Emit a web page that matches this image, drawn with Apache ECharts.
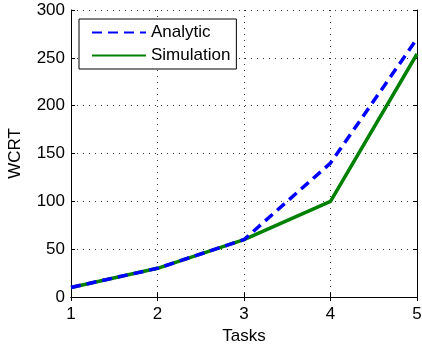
<!DOCTYPE html>
<html><head><meta charset="utf-8">
<script src="https://cdn.jsdelivr.net/npm/echarts@6/dist/echarts.min.js"></script>
<style>html,body{margin:0;padding:0;background:#fff}#c{width:422px;height:344px}</style>
</head><body><div id="c"></div>
<script>
var tasks = [1, 2, 3, 4, 5];
var analytic = [10, 30, 60, 140, 270];
var simulation = [10, 30, 60, 100, 254];
var xMin = 1, xMax = 5, xStep = 1;
var yMin = 0, yMax = 300, yStep = 50;

function pairs(xs, ys){ return xs.map(function(x,i){ return [x, ys[i]]; }); }
var font = 'Liberation Sans, Arial, sans-serif';
var chart = echarts.init(document.getElementById('c'));
var gridLine = {show:true, lineStyle:{color:'#333', type:[1,5], width:1}};
var axisLineStyle = {show:true, lineStyle:{color:'#000', width:1}};
var tick = {show:true, inside:true, length:4, lineStyle:{color:'#000'}};
chart.setOption({
  animation:false,
  grid:{left:71, right:5, top:10, bottom:47, containLabel:false, outerBoundsMode:'none'},
  legend:{
    left:79, top:19, orient:'vertical', itemGap:6, itemWidth:54, itemHeight:14,
    padding:[5,6,5,12], borderColor:'#000', borderWidth:1, backgroundColor:'#fff',
    itemStyle:{opacity:0},
    textStyle:{fontFamily:font, fontSize:17, color:'#000'},
    data:['Analytic','Simulation']
  },
  xAxis:[
    {type:'value', min:xMin, max:xMax, interval:xStep, position:'bottom',
     name:'Tasks', nameLocation:'middle', nameGap:27,
     nameTextStyle:{fontFamily:font, fontSize:17, color:'#000'},
     axisLine:axisLineStyle, axisTick:tick,
     axisLabel:{fontFamily:font, fontSize:17, color:'#000', margin:9},
     splitLine:gridLine},
    {type:'value', min:xMin, max:xMax, interval:xStep, position:'top',
     axisLine:axisLineStyle, axisTick:tick,
     axisLabel:{show:false}, splitLine:{show:false}}
  ],
  yAxis:[
    {type:'value', min:yMin, max:yMax, interval:yStep, position:'left',
     name:'WCRT', nameLocation:'middle', nameGap:47, nameRotate:90,
     nameTextStyle:{fontFamily:font, fontSize:17, color:'#000'},
     axisLine:axisLineStyle, axisTick:tick,
     axisLabel:{fontFamily:font, fontSize:17, color:'#000', margin:6},
     splitLine:gridLine},
    {type:'value', min:yMin, max:yMax, interval:yStep, position:'right',
     axisLine:axisLineStyle, axisTick:tick,
     axisLabel:{show:false}, splitLine:{show:false}}
  ],
  series:[
    {name:'Analytic', type:'line', data:pairs(tasks, analytic), symbol:'none', z:3,
     lineStyle:{color:'#0000ff', width:3.5, type:[10,6]}, itemStyle:{color:'#0000ff'}},
    {name:'Simulation', type:'line', data:pairs(tasks, simulation), symbol:'none', z:2,
     lineStyle:{color:'#008000', width:3.5}, itemStyle:{color:'#008000'}}
  ]
});
</script></body></html>
